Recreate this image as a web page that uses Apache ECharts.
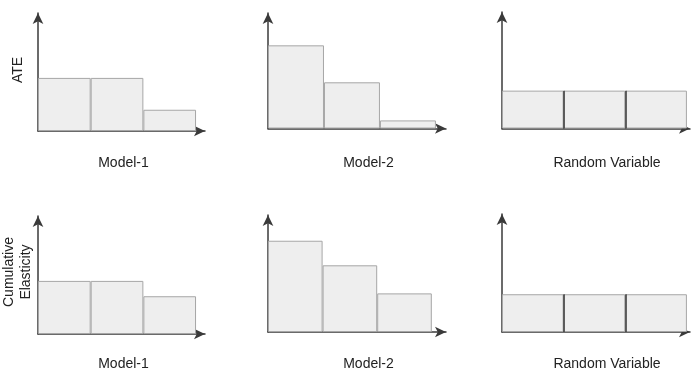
<!DOCTYPE html>
<html>
<head>
<meta charset="utf-8">
<script src="https://cdn.jsdelivr.net/npm/echarts@6/dist/echarts.min.js"></script>
<style>
html,body{margin:0;padding:0;background:#fff;}
#chart{width:700px;height:377px;}
</style>
</head>
<body>
<div id="chart"></div>
<script>
// ---- data ----
const panelNames = ['Model-1', 'Model-2', 'Random Variable'];
const rowNames = ['ATE', 'Cumulative\nElasticity'];
const binCenters = [0.5, 1.5, 2.5];
const ateModel1 = [4.5, 4.5, 1.8];
const ateModel2 = [7.2, 4.0, 0.7];
const ateRandom = [3.25, 3.25, 3.25];
const ceModel1 = [4.5, 4.5, 3.2];
const ceModel2 = [7.8, 5.7, 3.3];
const ceRandom = [3.2, 3.2, 3.2];

// ---- layout (pixels) ----
const grids = [
  {left: 38,  top: 13,  width: 167, height: 118},
  {left: 268, top: 13,  width: 178, height: 115.5},
  {left: 502, top: 12,  width: 188, height: 116.5},
  {left: 38,  top: 216, width: 167, height: 118},
  {left: 268, top: 215, width: 178, height: 117},
  {left: 502, top: 214, width: 188, height: 118}
];
const xMaxes = [3.17, 3.18, 3.05, 3.17, 3.26, 3.05];
const yMax = 10;
const panelSeries = [ateModel1, ateModel2, ateRandom, ceModel1, ceModel2, ceRandom];
const labelPos = [[123.5, 163], [368.5, 163], [607, 163], [123.5, 364], [368.5, 364], [607, 364]];

const axisColor = '#3a3a3a';
const axisLineCfg = {
  show: true,
  symbol: ['none', 'arrow'],
  symbolSize: [8, 11],
  lineStyle: {color: axisColor, width: 1.5}
};

const xAxes = [], yAxes = [], series = [];
grids.forEach((g, i) => {
  xAxes.push({
    type: 'value', gridIndex: i, min: 0, max: xMaxes[i],
    axisLine: axisLineCfg, axisTick: {show: false}, axisLabel: {show: false}, splitLine: {show: false}
  });
  yAxes.push({
    type: 'value', gridIndex: i, min: 0, max: yMax,
    axisLine: axisLineCfg, axisTick: {show: false}, axisLabel: {show: false}, splitLine: {show: false}
  });
  const vals = panelSeries[i];
  const s = {
    type: 'bar', xAxisIndex: i, yAxisIndex: i,
    data: binCenters.map((c, k) => [c, vals[k]]),
    barWidth: '100%',
    itemStyle: {color: '#eeeeee', borderColor: '#a6a6a6', borderWidth: 1},
    silent: true, z: 1
  };
  if (i % 3 === 2) {
    s.markLine = {
      silent: true, symbol: 'none', label: {show: false},
      lineStyle: {color: '#3a3a3a', width: 1.5, type: 'solid'},
      data: [1, 2].map(xv => [{coord: [xv, 0]}, {coord: [xv, vals[xv]]}])
    };
  }
  series.push(s);
});

const textFont = '14px "Liberation Sans", Arial, sans-serif';
const graphics = [];
labelPos.forEach((p, i) => {
  graphics.push({
    type: 'text', x: p[0], y: p[1],
    style: {text: panelNames[i % 3], fill: '#222', font: textFont, align: 'center', verticalAlign: 'middle'}
  });
});
graphics.push({
  type: 'text', x: 18, y: 70, rotation: Math.PI / 2,
  style: {text: rowNames[0], fill: '#222', font: textFont, align: 'center', verticalAlign: 'middle'}
});
graphics.push({
  type: 'text', x: 17.5, y: 272, rotation: Math.PI / 2,
  style: {text: rowNames[1], fill: '#222', font: textFont, align: 'center', verticalAlign: 'middle', lineHeight: 17}
});

const chart = echarts.init(document.getElementById('chart'), null, {renderer: 'canvas'});
chart.setOption({
  animation: false,
  backgroundColor: '#ffffff',
  grid: grids,
  xAxis: xAxes,
  yAxis: yAxes,
  series: series,
  graphic: graphics
});
</script>
</body>
</html>
